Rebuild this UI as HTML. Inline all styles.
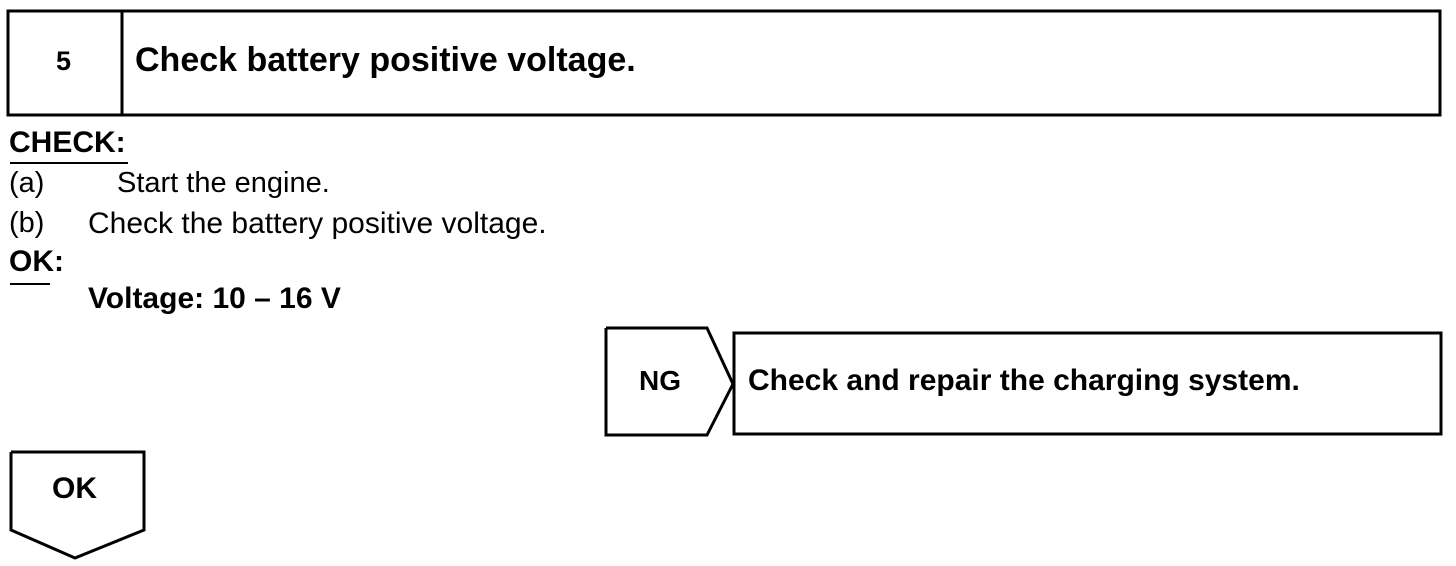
<!DOCTYPE html>
<html><head><style>
body{margin:0;width:1456px;height:566px;background:#fff;position:relative;overflow:hidden;font-family:"Liberation Sans",Arial,sans-serif;color:#000}
.t{position:absolute;white-space:nowrap;line-height:1}
.b{font-weight:bold}
</style></head><body>
<svg width="1456" height="566" style="position:absolute;left:0;top:0">
<g fill="none" stroke="#000" stroke-width="3">
<rect x="8" y="11" width="1432" height="104"/>
<line x1="122" y1="11" x2="122" y2="115"/>
<polyline points="606,328 707,328 733,384 707,435 606,435 606,328"/>
<rect x="734" y="333" width="707" height="101"/>
<polyline points="11,452 144,452 144,530 75,558 11,530 11,452"/>
</g>
<line x1="10" y1="163" x2="128" y2="163" stroke="#000" stroke-width="2"/>
<line x1="10" y1="284" x2="50" y2="284" stroke="#000" stroke-width="2"/>
</svg>
<div class="t b" style="left:56px;top:48px;font-size:27px">5</div>
<div class="t b" style="left:135px;top:43px;font-size:34px">Check battery positive voltage.</div>
<div class="t b" style="left:9px;top:128px;font-size:30px">CHECK:</div>
<div class="t" style="left:9px;top:169px;font-size:29px">(a)</div>
<div class="t" style="left:117px;top:169px;font-size:29px">Start the engine.</div>
<div class="t" style="left:9px;top:209px;font-size:29px">(b)</div>
<div class="t" style="left:88px;top:209px;font-size:30px">Check the battery positive voltage.</div>
<div class="t b" style="left:9px;top:247px;font-size:30px">OK:</div>
<div class="t b" style="left:88px;top:284px;font-size:30px">Voltage: 10 – 16 V</div>
<div class="t b" style="left:639px;top:367px;font-size:28px">NG</div>
<div class="t b" style="left:748px;top:366px;font-size:30px">Check and repair the charging system.</div>
<div class="t b" style="left:52px;top:474px;font-size:30px">OK</div>
</body></html>
